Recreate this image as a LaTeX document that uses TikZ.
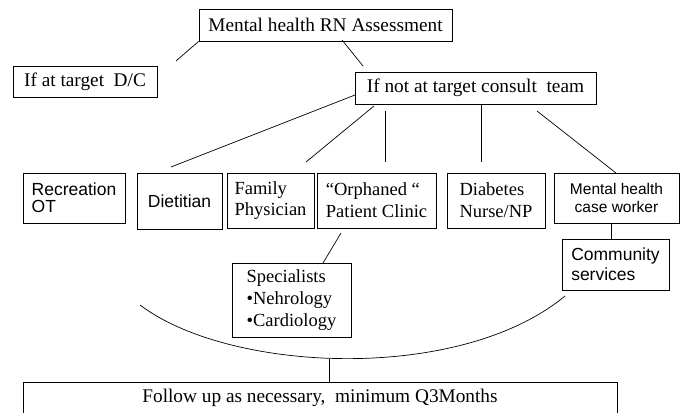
\documentclass[tikz,border=0pt]{standalone}
\usepackage{fontspec}
\setmainfont{Liberation Serif}
\setsansfont{Liberation Sans}
\usepackage{xcolor}

\begin{document}
\begin{tikzpicture}[x=1pt,y=-1pt]
	\tikzset{box/.style = {shape=rectangle,draw,line width=0.8pt,inner sep=0pt,align=left}}
	\tikzset{serif/.style = {font=\fontsize{18.5}{21.7}\selectfont}}
	\tikzset{bigserif/.style = {font=\fontsize{19.3}{22}\selectfont}}
	\tikzset{sans/.style = {font=\sffamily\fontsize{17.5}{17}\selectfont}}
	\tikzset{edge/.style = {-,line width=0.7pt}}
	\useasboundingbox (0,0) rectangle (684,412);
	\node[box,bigserif,minimum width=253pt,minimum height=32pt] (assess) at (325.5,25) {Mental health RN Assessment};
	\node[box,bigserif,minimum width=144pt,minimum height=31pt] (dc) at (85,81.5) {If at target~ D/C};
	\node[box,bigserif,minimum width=241pt,minimum height=32pt] (consult) at (475.5,88) {If not at target consult~ team};
	\node[box,sans,minimum width=102pt,minimum height=50pt] (rec) at (74,198) {Recreation\\OT};
	\node[box,sans,minimum width=85pt,minimum height=56pt] (diet) at (179.5,201) {Dietitian};
	\node[box,serif,minimum width=87pt,minimum height=55pt] (fam) at (270.5,200.5) {Family\\Physician};
	\node[box,serif,minimum width=119pt,minimum height=55pt] (orph) at (376.5,200.5) {“Orphaned “\\Patient Clinic};
	\node[box,serif,minimum width=98pt,minimum height=55pt] (diab) at (496,200.5) {Diabetes\\Nurse/NP};
	\node[box,sans,font=\sffamily\fontsize{15.5}{18}\selectfont,align=center,minimum width=125pt,minimum height=50pt] (mhcw) at (616.5,198) {Mental health\\case worker};
	\node[box,sans,font=\sffamily\fontsize{17.5}{20}\selectfont,minimum width=107pt,minimum height=51pt] (comm) at (615.5,264.5) {Community\\services};
	\node[box,serif,font=\fontsize{18.5}{22}\selectfont,minimum width=119pt,minimum height=74pt] (spec) at (291.5,300) {Specialists\\•Nehrology\\•Cardiology};
	\node[box,bigserif,minimum width=594pt,minimum height=32pt] (follow) at (320,398) {Follow up as necessary,~ minimum Q3Months};
	%edges
	\coordinate (a1) at (176,61);
	\coordinate (a2) at (342,40);
	\coordinate (a3) at (363,66);
	\coordinate (c1) at (355,95);
	\coordinate (c2) at (171,167);
	\coordinate (c3) at (374,106);
	\coordinate (c4) at (306,162);
	\coordinate (c5) at (385,111);
	\coordinate (c6) at (481,105);
	\coordinate (c7) at (537,111);
	\coordinate (c8) at (616,173);
	\coordinate (o1) at (341,233);
	\coordinate (o2) at (323,263);
	\coordinate (m1) at (611,223);
	\coordinate (arcl) at (140,305);
	\coordinate (arcr) at (565,296);
	\coordinate (arcbot) at (329,359);
	\draw[edge] (assess.south west) to (a1);
	\draw[edge] (a2) to (a3);
	\draw[edge] (c1) to (c2);
	\draw[edge] (c3) to (c4);
	\draw[edge] (c5) to (c5 |- c4);
	\draw[edge] (c6) to (c6 |- c4);
	\draw[edge] (c7) to (c8);
	\draw[edge] (o1) to (o2);
	\draw[edge] (m1) to (m1 |- comm.north);
	\draw[edge] (arcl) .. controls (230,373) and (460,383) .. (arcr);
	\draw[edge] (arcbot) to (arcbot |- follow.north);
\end{tikzpicture}
\end{document}
